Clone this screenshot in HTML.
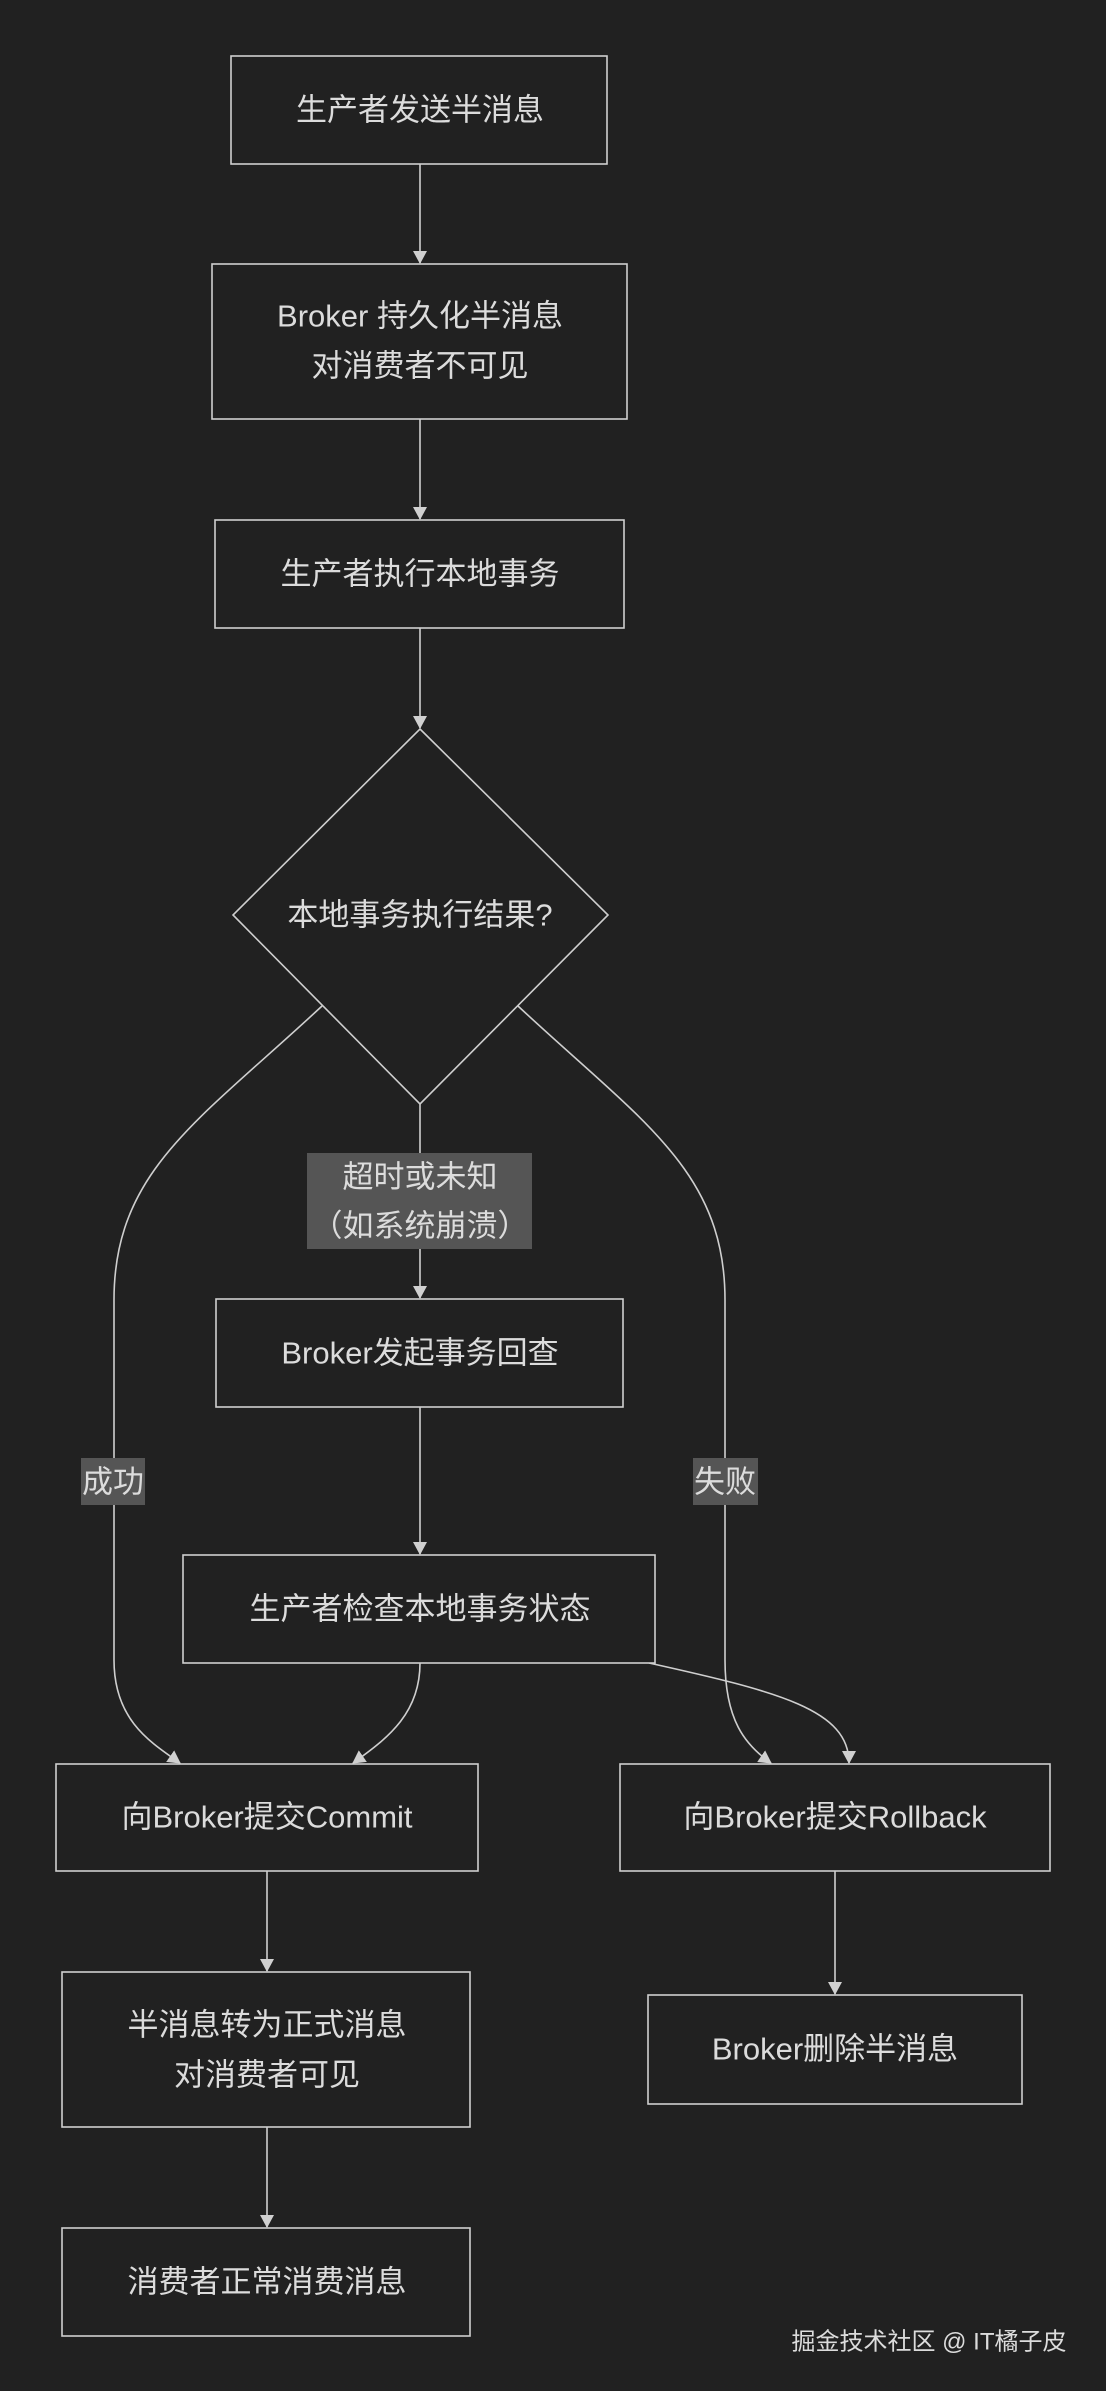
<!DOCTYPE html>
<html><head><meta charset="utf-8"><style>
html,body{margin:0;padding:0;background:#212121;}
svg{display:block;}
text{font-family:"Liberation Sans","Noto Sans CJK SC",sans-serif;fill:#dcdcdc;font-size:31px;text-anchor:middle;dominant-baseline:central;}
</style></head><body>
<svg width="1106" height="2391" viewBox="0 0 1106 2391" xmlns="http://www.w3.org/2000/svg">
<defs><marker id="a" markerWidth="14" markerHeight="14" refX="12" refY="7" orient="auto" markerUnits="userSpaceOnUse"><path d="M0,0 L13,7 L0,14 z" fill="#d0d0d0"/></marker></defs>
<rect width="1106" height="2391" fill="#212121"/>
<g fill="none" stroke="#cfcfcf" stroke-width="1.6">
<line x1="420" y1="164" x2="420" y2="263" marker-end="url(#a)"/>
<line x1="420" y1="419" x2="420" y2="519" marker-end="url(#a)"/>
<line x1="420" y1="628" x2="420" y2="728" marker-end="url(#a)"/>
<line x1="420" y1="1104" x2="420" y2="1298" marker-end="url(#a)"/>
<line x1="420" y1="1407" x2="420" y2="1554" marker-end="url(#a)"/>
<path d="M322,1006 C200,1120 114,1170 114,1300 L114,1660 C114,1720 150,1742 180,1763" marker-end="url(#a)"/>
<path d="M518,1006 C640,1120 725,1170 725,1300 L725,1660 C725,1720 745,1745 771,1763" marker-end="url(#a)"/>
<path d="M420,1663 C420,1712 390,1737 353,1763" marker-end="url(#a)"/>
<path d="M649,1663 C780,1692 849,1710 849,1763" marker-end="url(#a)"/>
<line x1="267" y1="1871" x2="267" y2="1971" marker-end="url(#a)"/>
<line x1="835" y1="1871" x2="835" y2="1994" marker-end="url(#a)"/>
<line x1="267" y1="2127" x2="267" y2="2227" marker-end="url(#a)"/>
<rect x="231" y="56" width="376" height="108" fill="#212121"/>
<rect x="212" y="264" width="415" height="155" fill="#212121"/>
<rect x="215" y="520" width="409" height="108" fill="#212121"/>
<polygon points="420,729 608,915 420,1104 233,915" fill="#212121"/>
<rect x="216" y="1299" width="407" height="108" fill="#212121"/>
<rect x="183" y="1555" width="472" height="108" fill="#212121"/>
<rect x="56" y="1764" width="422" height="107" fill="#212121"/>
<rect x="620" y="1764" width="430" height="107" fill="#212121"/>
<rect x="62" y="1972" width="408" height="155" fill="#212121"/>
<rect x="648" y="1995" width="374" height="109" fill="#212121"/>
<rect x="62" y="2228" width="408" height="108" fill="#212121"/>
</g>
<rect x="307" y="1153" width="225" height="96" fill="#555"/>
<rect x="81" y="1458" width="64" height="47" fill="#555"/>
<rect x="693" y="1458" width="65" height="47" fill="#555"/>
<text x="420" y="110">生产者发送半消息</text>
<text x="420" y="316">Broker 持久化半消息</text>
<text x="420" y="366">对消费者不可见</text>
<text x="420" y="574">生产者执行本地事务</text>
<text x="420" y="915">本地事务执行结果?</text>
<text x="420" y="1177">超时或未知</text>
<text x="420" y="1226">（如系统崩溃）</text>
<text x="113" y="1482">成功</text>
<text x="725" y="1482">失败</text>
<text x="420" y="1353">Broker发起事务回查</text>
<text x="420" y="1609">生产者检查本地事务状态</text>
<text x="267" y="1817">向Broker提交Commit</text>
<text x="835" y="1817">向Broker提交Rollback</text>
<text x="267" y="2025">半消息转为正式消息</text>
<text x="267" y="2075">对消费者可见</text>
<text x="835" y="2049">Broker删除半消息</text>
<text x="267" y="2282">消费者正常消费消息</text>
<text x="929" y="2342" style="font-size:24px">掘金技术社区 @ IT橘子皮</text>
</svg>
</body></html>
